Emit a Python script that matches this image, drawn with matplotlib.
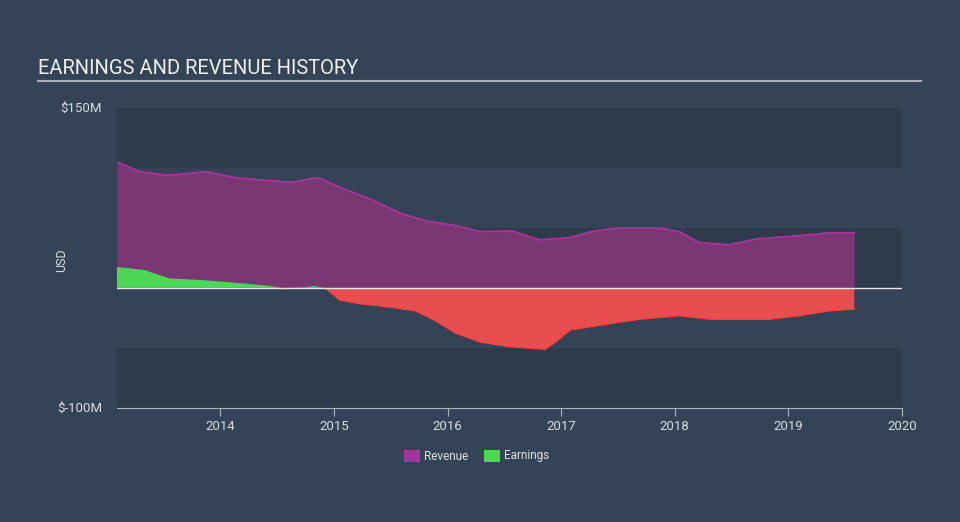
import numpy as np
import matplotlib.pyplot as plt
from matplotlib.patches import Rectangle

plt.rcParams['font.family'] = ['Roboto', 'DejaVu Sans']

# Revenue (USD millions)
rev_x = [2013.09, 2013.29, 2013.52, 2013.69, 2013.87, 2014.13, 2014.35, 2014.62, 2014.86,
         2015.05, 2015.32, 2015.58, 2015.80, 2016.07, 2016.29, 2016.57, 2016.81, 2017.07,
         2017.29, 2017.51, 2017.86, 2018.04, 2018.21, 2018.47, 2018.73, 2019.01, 2019.36, 2019.58]
rev_y = [105, 97, 94, 95, 97, 92, 90, 88, 92,
         84, 74, 62.5, 56, 52, 47, 47.5, 40, 42,
         47.5, 50, 50, 47, 38, 36, 41, 43, 46, 46]

# Earnings (USD millions)
earn_x = [2013.09, 2013.33, 2013.55, 2013.82, 2014.18, 2014.44, 2014.57, 2014.70, 2014.83,
          2014.93, 2015.05, 2015.23, 2015.50, 2015.72, 2015.89, 2016.07, 2016.29, 2016.55,
          2016.86, 2016.95, 2017.08, 2017.34, 2017.69, 2018.04, 2018.31, 2018.84, 2019.10,
          2019.36, 2019.58]
earn_y = [17.5, 15, 8, 6.7, 4, 1.7, -0.5, 0, 1.7,
          -0.5, -10, -13, -16, -19, -27, -37.5, -45, -49,
          -51, -45, -35, -31, -26, -23, -26, -26, -23,
          -19, -17.5]

bg = '#344456'
band = '#2e3b4b'

fig = plt.figure(figsize=(9.6, 5.22), dpi=100)
fig.patch.set_facecolor(bg)
ax = fig.add_axes([117 / 960, (522 - 408) / 522, (902 - 117) / 960, 300 / 522])
ax.set_facecolor(bg)
ax.set_xlim(2013.09, 2020.0)
ax.set_ylim(-100, 150)

# alternating bands
for lo in (100, 0, -100):
    ax.add_patch(Rectangle((2013.09, lo), 7, 50, facecolor=band, edgecolor='none', zorder=0))

ax.fill_between(rev_x, 0, rev_y, color='#7a3774', zorder=2, linewidth=0)
ax.plot(rev_x, rev_y, color='#a8359e', lw=1.3, zorder=3)

ex = np.array(earn_x)
ey = np.array(earn_y)
ax.fill_between(ex, 0, ey, where=ey >= 0, interpolate=True, color='#4ed656', zorder=4, linewidth=0)
ax.fill_between(ex, 0, ey, where=ey <= 0, interpolate=True, color='#e84e50', zorder=4, linewidth=0)
ax.plot(ex, np.clip(ey, None, 0), color='#ff4040', lw=1.0, zorder=5)
ax.axhline(0, color='#e6e6e6', lw=1, zorder=6)

for s in ('top', 'right', 'left'):
    ax.spines[s].set_visible(False)
ax.spines['bottom'].set_color('#a9b4c0')
ax.set_yticks([])
ax.set_xticks(range(2014, 2021))
ax.tick_params(axis='x', colors='#a9b4c0', labelcolor='#d8dce0', labelsize=9.5, length=6, pad=3)

fig.text(102 / 960, 1 - 108 / 522, '$150M', color='#d8dce0', fontsize=9.5, ha='right', va='center')
fig.text(102 / 960, 1 - 408 / 522, '$-100M', color='#d8dce0', fontsize=9.5, ha='right', va='center')
fig.text(62 / 960, 1 - 260 / 522, 'USD', color='#d8dce0', fontsize=9, rotation=90, ha='center', va='center')

fig.text(38 / 960, 1 - 68 / 522, 'EARNINGS AND REVENUE HISTORY', color='#f0f0f0', fontsize=14.5, ha='left', va='center')
fig.add_artist(plt.Line2D([38 / 960, 921 / 960], [1 - 81 / 522] * 2, color='#a9b0b8', lw=1.5))

# legend
fig.add_artist(Rectangle((404 / 960, 1 - 462 / 522), 16 / 960, 12 / 522, facecolor='#a0359c', edgecolor='none'))
fig.text(424 / 960, 1 - 456 / 522, 'Revenue', color='#e0e0e0', fontsize=8.5, ha='left', va='center')
fig.add_artist(Rectangle((484 / 960, 1 - 462 / 522), 16 / 960, 12 / 522, facecolor='#4cd84f', edgecolor='none'))
fig.text(504 / 960, 1 - 456 / 522, 'Earnings', color='#e0e0e0', fontsize=8.5, ha='left', va='center')

plt.savefig('out.png', dpi=100, facecolor=fig.get_facecolor())
